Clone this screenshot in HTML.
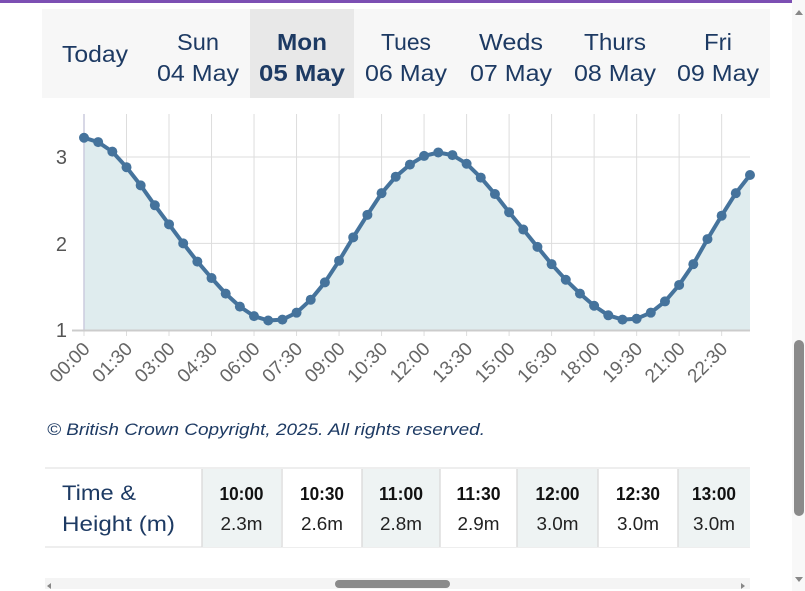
<!DOCTYPE html>
<html><head><meta charset="utf-8"><style>
html,body{margin:0;padding:0;background:#fff;width:805px;height:591px;overflow:hidden}
svg{display:block}
</style></head><body>
<svg id="s" width="805" height="591" xmlns="http://www.w3.org/2000/svg" font-family="Liberation Sans, sans-serif">
<rect x="0" y="0" width="805" height="3" fill="#7c4fb3"/>
<rect x="42" y="9" width="728" height="89" fill="#f7f7f7"/>
<rect x="250" y="9" width="104" height="89" fill="#e8e8e8"/>
<g fill="#1d3a63" font-size="23" text-anchor="middle">
<text x="95" y="62" textLength="66" lengthAdjust="spacingAndGlyphs">Today</text>
<text x="198" y="50" textLength="42" lengthAdjust="spacingAndGlyphs">Sun</text>
<text x="198" y="81" textLength="82" lengthAdjust="spacingAndGlyphs">04 May</text>
<text x="302" y="50" font-weight="bold" textLength="50" lengthAdjust="spacingAndGlyphs">Mon</text>
<text x="302" y="81" font-weight="bold" textLength="86" lengthAdjust="spacingAndGlyphs">05 May</text>
<text x="406" y="50" textLength="50" lengthAdjust="spacingAndGlyphs">Tues</text>
<text x="406" y="81" textLength="82" lengthAdjust="spacingAndGlyphs">06 May</text>
<text x="511" y="50" textLength="64" lengthAdjust="spacingAndGlyphs">Weds</text>
<text x="511" y="81" textLength="82" lengthAdjust="spacingAndGlyphs">07 May</text>
<text x="615" y="50" textLength="62" lengthAdjust="spacingAndGlyphs">Thurs</text>
<text x="615" y="81" textLength="82" lengthAdjust="spacingAndGlyphs">08 May</text>
<text x="718" y="50" textLength="28" lengthAdjust="spacingAndGlyphs">Fri</text>
<text x="718" y="81" textLength="82" lengthAdjust="spacingAndGlyphs">09 May</text>
</g>
<g id="grid" stroke="#dddddd" stroke-width="1"></g>
<g id="chart"></g>
<g id="lbl" fill="#666" font-size="19"></g>
<g fill="#555" font-size="20" text-anchor="end">
<text x="67" y="164">3</text><text x="67" y="251">2</text><text x="67" y="337">1</text>
</g>
<text x="47" y="435" fill="#1d3a63" font-size="17" font-style="italic" textLength="438" lengthAdjust="spacingAndGlyphs">© British Crown Copyright, 2025. All rights reserved.</text>
<g id="tbl"></g>
<rect x="45" y="578" width="705" height="11" fill="#f4f4f4"/>
<rect x="335" y="580" width="115" height="8" rx="4" fill="#8a8a8a"/>
<path d="M51 583 l-4 3 4 3z M741 583 l4 3 -4 3z" fill="#888"/>
<rect x="792" y="0" width="13" height="591" fill="#f8f8f8"/>
<rect x="794" y="340" width="10" height="176" rx="5" fill="#8a8a8a"/>
<path d="M795 15 l4 -5 4 5z M795 577 l4 5 4 -5z" fill="#888"/>
</svg>
<script>
var v=[3.22,3.17,3.06,2.88,2.67,2.44,2.22,2.0,1.79,1.6,1.42,1.27,1.16,1.11,1.12,1.20,1.35,1.55,1.80,2.07,2.33,2.58,2.77,2.91,3.01,3.05,3.02,2.92,2.76,2.57,2.36,2.16,1.96,1.76,1.58,1.42,1.28,1.17,1.12,1.13,1.20,1.33,1.52,1.76,2.05,2.32,2.58,2.79];
function X(i){return 84+i*14.17}function Y(h){return 330-(h-1)*86.6}
var g='';
for(var k=0;k<16;k++){var x=X(k*3);g+='<line x1="'+x+'" y1="114" x2="'+x+'" y2="336"/>';}
g+='<line x1="84" y1="157" x2="750" y2="157"/><line x1="84" y1="243.4" x2="750" y2="243.4"/>';
document.getElementById('grid').innerHTML=g;
var pts=v.map(function(h,i){return X(i).toFixed(1)+','+Y(h).toFixed(1)}).join(' ');
var c='<polygon points="84,330 '+pts+' 750,330" fill="#dfecee"/>';
c+='<line x1="84" y1="114" x2="84" y2="330" stroke="#ccd" stroke-width="1.5"/>';
c+='<line x1="72" y1="330.5" x2="750" y2="330.5" stroke="#cccccc" stroke-width="2"/>';
c+='<polyline points="'+pts+'" fill="none" stroke="#45739c" stroke-width="4" stroke-linejoin="round"/>';
v.forEach(function(h,i){c+='<circle cx="'+X(i)+'" cy="'+Y(h)+'" r="5" fill="#45739c"/>';});
document.getElementById('chart').innerHTML=c;
var L='',t=['00:00','01:30','03:00','04:30','06:00','07:30','09:00','10:30','12:00','13:30','15:00','16:30','18:00','19:30','21:00','22:30'];
t.forEach(function(s,k){var x=X(k*3)+7,y=350;L+='<text x="'+x+'" y="'+y+'" text-anchor="end" transform="rotate(-45 '+x+' '+y+')">'+s+'</text>';});
document.getElementById('lbl').innerHTML=L;
var T='<line x1="45" y1="468" x2="750" y2="468" stroke="#ddd"/><line x1="45" y1="547" x2="750" y2="547" stroke="#ddd"/>';
T+='<text x="62" y="500" fill="#1d3a63" font-size="21" textLength="74" lengthAdjust="spacingAndGlyphs">Time &amp;</text>';
T+='<text x="62" y="531" fill="#1d3a63" font-size="21" textLength="113" lengthAdjust="spacingAndGlyphs">Height (m)</text>';
var cols=[[202,281,'10:00','2.3m'],[282,362,'10:30','2.6m'],[362,440,'11:00','2.8m'],[440,517,'11:30','2.9m'],[517,598,'12:00','3.0m'],[598,678,'12:30','3.0m'],[678,750,'13:00','3.0m']];
cols.forEach(function(c,i){var w=c[1]-c[0];T+='<rect x="'+c[0]+'" y="469" width="'+w+'" height="78" fill="'+(i%2==0?'#eef3f3':'#fff')+'"/>';
T+='<line x1="'+c[0]+'" y1="469" x2="'+c[0]+'" y2="547" stroke="#ddd" stroke-width="1.5"/>';
var m=c[0]+w/2;T+='<text x="'+m+'" y="500" text-anchor="middle" font-size="18" font-weight="bold" fill="#111" textLength="44" lengthAdjust="spacingAndGlyphs">'+c[2]+'</text>';
T+='<text x="'+m+'" y="530" text-anchor="middle" font-size="18" fill="#222" textLength="42" lengthAdjust="spacingAndGlyphs">'+c[3]+'</text>';});
document.getElementById('tbl').innerHTML=T;
</script>
</body></html>
